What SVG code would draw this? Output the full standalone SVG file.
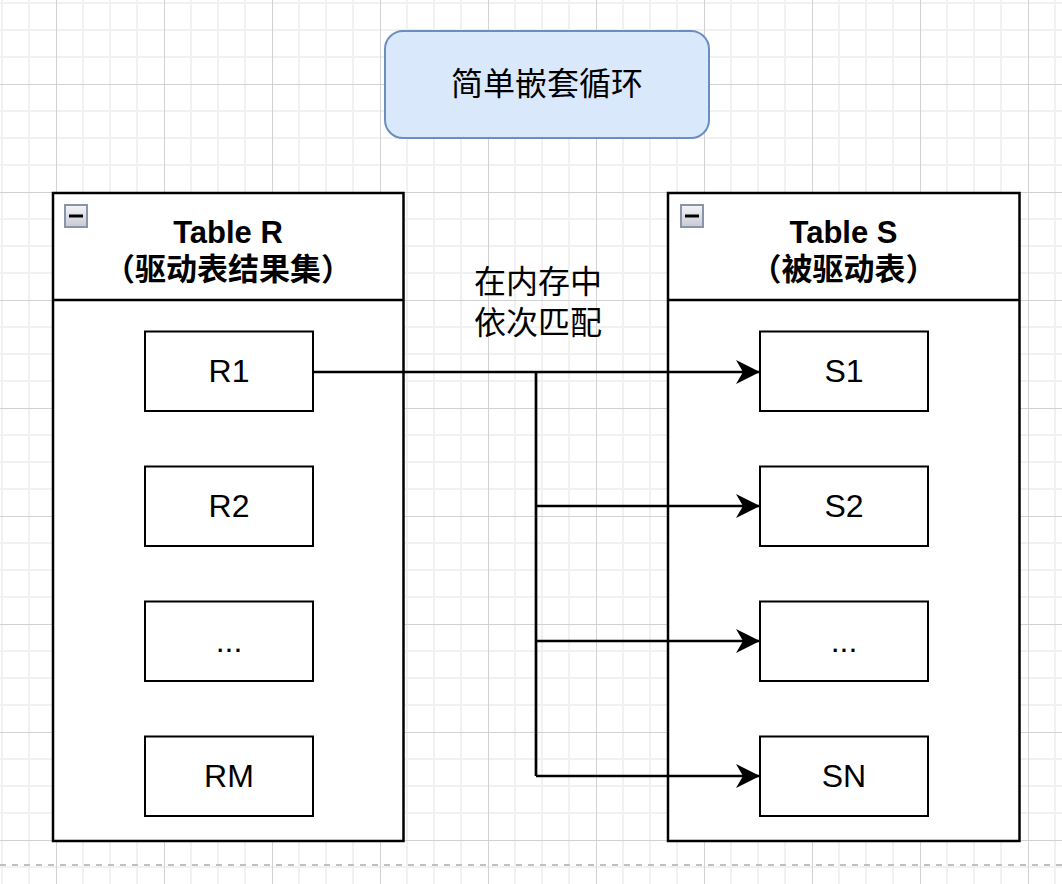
<svg xmlns="http://www.w3.org/2000/svg" width="1062" height="884" viewBox="0 0 1062 884">
<style>
text{font-family:"Liberation Sans","Noto Sans CJK SC",sans-serif;fill:#000;text-anchor:middle}
.t{font-size:32px}
.h{font-size:31px;font-weight:bold}
.tbl{fill:#fff;stroke:#000;stroke-width:2.5}
.box{fill:#fff;stroke:#000;stroke-width:2}
.ln{fill:none;stroke:#000;stroke-width:2.7}
.ico{fill:url(#ig);stroke:#8a93a8;stroke-width:2}
.bar{stroke:#000;stroke-width:3}
</style>
<defs>
<pattern id="grid" width="108" height="108" patternUnits="userSpaceOnUse" x="0" y="0">
<path d="M2 0V108M29 0V108M83 0V108M0 3H108M0 30H108M0 57H108" stroke="#f1f1f1" stroke-width="2" fill="none"/>
<path d="M56.5 0V108M0 84.5H108" stroke="#d2d2d2" stroke-width="1" fill="none"/>
</pattern>
<linearGradient id="ig" x1="0" y1="0" x2="0" y2="1">
<stop offset="0" stop-color="#f4f5f8"/>
<stop offset="1" stop-color="#c6cad4"/>
</linearGradient>
<marker id="arr" viewBox="-25 -13 26 26" refX="0" refY="0" markerWidth="26" markerHeight="26" markerUnits="userSpaceOnUse" orient="auto">
<path d="M0 0L-24 -12L-17 0L-24 12Z" fill="#000"/>
</marker>
</defs>
<rect width="1062" height="884" fill="#fff"/>
<rect width="1062" height="884" fill="url(#grid)"/>
<path d="M0 865H1062" stroke="#c0c0c0" stroke-width="2" stroke-dasharray="6 6"/>

<g id="title">
<rect x="385" y="31" width="324" height="107" rx="18" fill="#dae8fc" stroke="#6c8ebf" stroke-width="2"/>
<text class="t" x="547" y="95">简单嵌套循环</text>
</g>

<g id="tableR">
<rect class="tbl" x="53" y="193" width="350.5" height="648"/>
<path d="M53 300H403.5" stroke="#000" stroke-width="2.5"/>
<rect class="ico" x="65" y="205" width="22" height="22"/>
<path class="bar" d="M69 216H83"/>
<text class="h" x="228" y="243">Table R</text>
<text class="h" x="228" y="280">（驱动表结果集）</text>
</g>

<g id="tableS">
<rect class="tbl" x="668" y="193" width="351.5" height="648"/>
<path d="M668 300H1019.5" stroke="#000" stroke-width="2.5"/>
<rect class="ico" x="681" y="205" width="22" height="22"/>
<path class="bar" d="M685 216H699"/>
<text class="h" x="843.5" y="243">Table S</text>
<text class="h" x="843.5" y="280">（被驱动表）</text>
</g>

<g id="R1"><rect class="box" x="145" y="331.5" width="168" height="79.5"/><text class="t" x="229" y="382">R1</text></g>
<g id="R2"><rect class="box" x="145" y="466.5" width="168" height="79.5"/><text class="t" x="229" y="517">R2</text></g>
<g id="R3"><rect class="box" x="145" y="601.5" width="168" height="79.5"/><text class="t" x="229" y="652">...</text></g>
<g id="RM"><rect class="box" x="145" y="736.5" width="168" height="79.5"/><text class="t" x="229" y="787">RM</text></g>

<g id="S1"><rect class="box" x="760" y="331.5" width="168" height="79.5"/><text class="t" x="844" y="382">S1</text></g>
<g id="S2"><rect class="box" x="760" y="466.5" width="168" height="79.5"/><text class="t" x="844" y="517">S2</text></g>
<g id="S3"><rect class="box" x="760" y="601.5" width="168" height="79.5"/><text class="t" x="844" y="652">...</text></g>
<g id="SN"><rect class="box" x="760" y="736.5" width="168" height="79.5"/><text class="t" x="844" y="787">SN</text></g>

<g id="connectors">
<path class="ln" d="M313 372H760" marker-end="url(#arr)"/>
<path class="ln" d="M536 372V776"/>
<path class="ln" d="M536 506H760" marker-end="url(#arr)"/>
<path class="ln" d="M536 641H760" marker-end="url(#arr)"/>
<path class="ln" d="M536 776H760" marker-end="url(#arr)"/>
<text class="t" x="538" y="293">在内存中</text>
<text class="t" x="538" y="334">依次匹配</text>
</g>
</svg>
